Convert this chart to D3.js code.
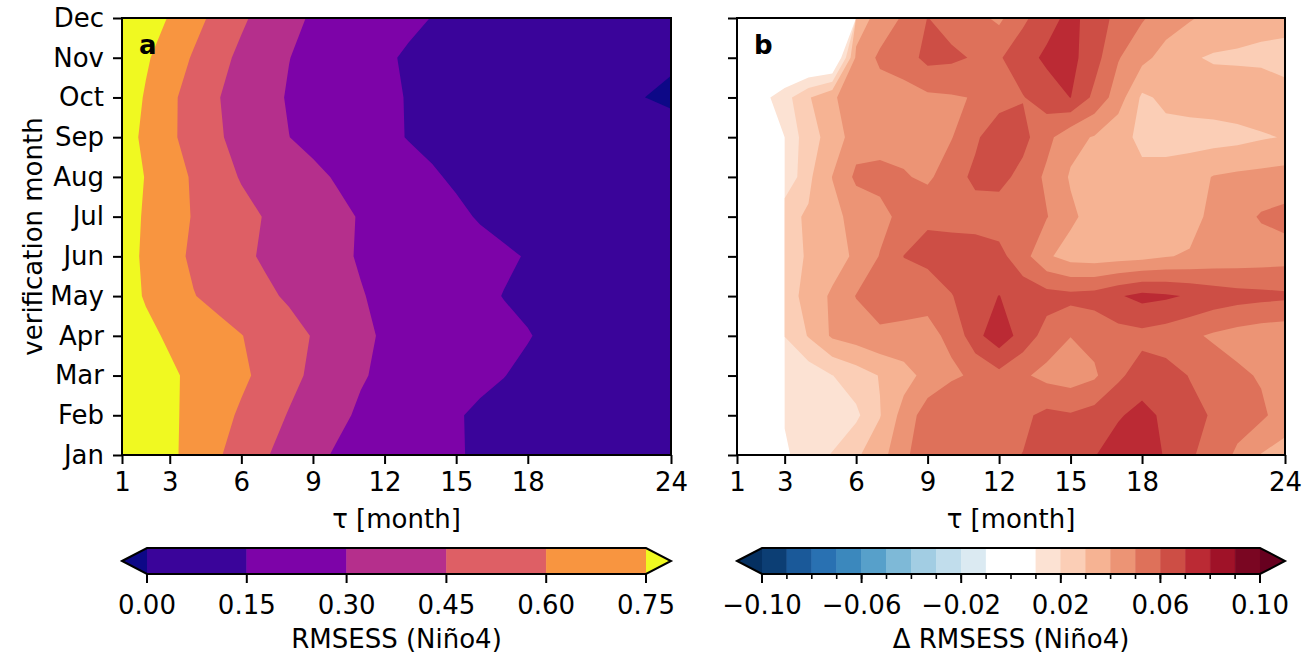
<!DOCTYPE html>
<html>
<head>
<meta charset="utf-8">
<script src="https://cdn.jsdelivr.net/npm/d3@7"></script>
<style>
  body { margin: 0; background: #fff; }
  text { font-family: "DejaVu Sans", sans-serif; fill: #000; }
</style>
</head>
<body>
<svg id="fig" width="1313" height="657"></svg>
<script>
const months = ["Jan", "Feb", "Mar", "Apr", "May", "Jun", "Jul", "Aug", "Sep", "Oct", "Nov", "Dec"];
const tauTicks = [1, 3, 6, 9, 12, 15, 18, 24];

const levelsA = [0.00, 0.15, 0.30, 0.45, 0.60, 0.75];
const levelsB = [-0.10, -0.09, -0.08, -0.07, -0.06, -0.05, -0.04, -0.03, -0.02, -0.01, 0.00,
                 0.01, 0.02, 0.03, 0.04, 0.05, 0.06, 0.07, 0.08, 0.09, 0.10];
const cbTicksB = [-0.10, -0.06, -0.02, 0.02, 0.06, 0.10];

// RMSESS (Niño4), rows = verification month Jan..Dec, columns = tau 1..24
const rmsess = [
  [0.88, 0.83, 0.78, 0.698, 0.616, 0.539, 0.462, 0.396, 0.331, 0.287, 0.261, 0.236, 0.210, 0.184, 0.159, 0.135, 0.125, 0.115, 0.105, 0.095, 0.085, 0.075, 0.068, 0.060],
  [0.87, 0.82, 0.776, 0.711, 0.647, 0.581, 0.510, 0.441, 0.384, 0.326, 0.283, 0.253, 0.222, 0.191, 0.160, 0.130, 0.120, 0.110, 0.100, 0.090, 0.080, 0.070, 0.065, 0.060],
  [0.86, 0.81, 0.771, 0.722, 0.673, 0.625, 0.564, 0.490, 0.424, 0.367, 0.310, 0.279, 0.254, 0.228, 0.203, 0.177, 0.152, 0.130, 0.115, 0.100, 0.090, 0.080, 0.070, 0.060],
  [0.83, 0.78, 0.732, 0.690, 0.647, 0.604, 0.551, 0.497, 0.443, 0.383, 0.323, 0.287, 0.265, 0.243, 0.221, 0.199, 0.177, 0.155, 0.130, 0.115, 0.100, 0.090, 0.080, 0.070],
  [0.805, 0.739, 0.672, 0.605, 0.561, 0.518, 0.475, 0.432, 0.390, 0.348, 0.306, 0.278, 0.252, 0.226, 0.199, 0.173, 0.147, 0.130, 0.120, 0.110, 0.100, 0.090, 0.080, 0.070],
  [0.809, 0.727, 0.645, 0.577, 0.527, 0.477, 0.433, 0.395, 0.358, 0.321, 0.291, 0.270, 0.249, 0.228, 0.207, 0.186, 0.165, 0.144, 0.125, 0.110, 0.100, 0.090, 0.080, 0.070],
  [0.81, 0.735, 0.660, 0.591, 0.541, 0.491, 0.443, 0.405, 0.366, 0.328, 0.292, 0.262, 0.231, 0.201, 0.171, 0.141, 0.120, 0.105, 0.095, 0.085, 0.075, 0.068, 0.060, 0.055],
  [0.825, 0.744, 0.663, 0.583, 0.506, 0.440, 0.402, 0.364, 0.326, 0.290, 0.258, 0.226, 0.194, 0.162, 0.135, 0.120, 0.105, 0.095, 0.085, 0.075, 0.065, 0.055, 0.050, 0.045],
  [0.814, 0.720, 0.626, 0.544, 0.466, 0.407, 0.354, 0.301, 0.269, 0.238, 0.207, 0.176, 0.145, 0.125, 0.110, 0.100, 0.090, 0.080, 0.070, 0.060, 0.055, 0.050, 0.045, 0.030],
  [0.842, 0.736, 0.630, 0.540, 0.457, 0.396, 0.338, 0.290, 0.261, 0.232, 0.203, 0.173, 0.144, 0.120, 0.100, 0.085, 0.070, 0.060, 0.050, 0.040, 0.025, 0.010, -0.001, -0.012],
  [0.859, 0.768, 0.677, 0.586, 0.495, 0.420, 0.361, 0.302, 0.267, 0.234, 0.200, 0.167, 0.135, 0.120, 0.105, 0.090, 0.080, 0.070, 0.060, 0.050, 0.040, 0.030, 0.020, 0.010],
  [0.90, 0.83, 0.739, 0.648, 0.559, 0.472, 0.400, 0.332, 0.286, 0.258, 0.230, 0.203, 0.175, 0.147, 0.130, 0.120, 0.110, 0.100, 0.090, 0.080, 0.070, 0.060, 0.050, 0.040]
];

// Δ RMSESS (Niño4), same layout; null = no value
const deltaRmsess = [
  [null, null, 0.008, 0.0165, 0.0205, 0.0285, 0.036, 0.048, 0.056, 0.057, 0.057, 0.058, 0.0602, 0.063, 0.066, 0.0695, 0.075, 0.076, 0.069, 0.061, 0.057, 0.048, 0.0395, 0.036],
  [null, null, 0.011, 0.013, 0.015, 0.018, 0.0295, 0.044, 0.055, 0.056, 0.055, 0.055, 0.058, 0.0625, 0.061, 0.064, 0.069, 0.073, 0.068, 0.063, 0.059, 0.055, 0.052, 0.045],
  [null, null, 0.012, 0.014, 0.0198, 0.025, 0.0305, 0.036, 0.0435, 0.049, 0.051, 0.057, 0.0515, 0.047, 0.045, 0.0485, 0.058, 0.065, 0.064, 0.0596, 0.056, 0.052, 0.049, 0.045],
  [null, null, 0.0202, 0.0307, 0.0415, 0.0445, 0.048, 0.0475, 0.0485, 0.0512, 0.067, 0.076, 0.066, 0.056, 0.0502, 0.053, 0.056, 0.057, 0.055, 0.052, 0.0485, 0.046, 0.044, 0.043],
  [null, null, 0.025, 0.0336, 0.0417, 0.0504, 0.055, 0.054, 0.0515, 0.0595, 0.066, 0.0702, 0.066, 0.064, 0.063, 0.064, 0.069, 0.073, 0.0715, 0.069, 0.066, 0.064, 0.063, 0.062],
  [null, null, 0.026, 0.031, 0.035, 0.042, 0.0505, 0.0602, 0.064, 0.066, 0.065, 0.063, 0.054, 0.0415, 0.036, 0.035, 0.036, 0.037, 0.0395, 0.041, 0.043, 0.044, 0.045, 0.046],
  [null, null, 0.0277, 0.031, 0.0375, 0.043, 0.047, 0.053, 0.058, 0.056, 0.056, 0.055, 0.054, 0.0505, 0.042, 0.036, 0.033, 0.032, 0.033, 0.036, 0.043, 0.046, 0.051, 0.053],
  [null, null, 0.011, 0.028, 0.0402, 0.052, 0.053, 0.051, 0.048, 0.056, 0.062, 0.063, 0.057, 0.048, 0.039, 0.036, 0.034, 0.032, 0.033, 0.036, 0.0405, 0.042, 0.043, 0.044],
  [null, null, 0.0105, 0.0263, 0.0337, 0.0456, 0.046, 0.046, 0.047, 0.0495, 0.0585, 0.066, 0.063, 0.053, 0.043, 0.0393, 0.033, 0.028, 0.027, 0.026, 0.026, 0.027, 0.029, 0.0305],
  [null, 0.006, 0.016, 0.029, 0.039, 0.044, 0.045, 0.046, 0.048, 0.049, 0.0505, 0.056, 0.0595, 0.065, 0.0702, 0.0575, 0.045, 0.0283, 0.032, 0.034, 0.035, 0.036, 0.036, 0.032],
  [null, null, -0.009, -0.009, -0.009, 0.042, 0.052, 0.055, 0.063, 0.062, 0.059, 0.059, 0.066, 0.072, 0.073, 0.064, 0.0507, 0.043, 0.036, 0.031, 0.029, 0.0285, 0.028, 0.028],
  [null, null, null, null, null, 0.035, 0.0435, 0.0515, 0.0602, 0.056, 0.053, 0.048, 0.058, 0.066, 0.073, 0.0655, 0.057, 0.051, 0.045, 0.041, 0.037, 0.035, 0.033, 0.032]
];

const MASK = -9;          // stand-in for missing values, below every drawn band
const UNDER = -1;         // lower edge of the "under" band

const svg = d3.select("#fig");
const yTop = 18, yBot = 455;
const cbTop = 548, cbBot = 574;
const fs = 26;

// colours: plasma for panel a (normed to 0..0.9), RdBu_r for panel b
const normA = d3.scaleLinear([0, 0.9], [0, 1]);
const colorsA = [d3.interpolatePlasma(0)]
  .concat(d3.pairs(levelsA).map(([a, b]) => d3.interpolatePlasma(normA((a + b) / 2))))
  .concat([d3.interpolatePlasma(1)]);

const rdbuR = d3.piecewise(d3.interpolateRgb, ["#053061", "#2166ac", "#4393c3", "#92c5de", "#d1e5f0",
  "#f7f7f7", "#fddbc7", "#f4a582", "#d6604d", "#b2182b", "#67001f"]);
const normB = d3.scaleLinear([-0.1, 0.1], [0, 1]);
const colorsB = [rdbuR(0)]
  .concat(d3.pairs(levelsB).map(([a, b]) => {
    const m = (a + b) / 2;
    return Math.abs(m) < 0.01 ? "#ffffff" : rdbuR(normB(m));
  }))
  .concat([rdbuR(1)]);

const panels = [
  { key: "a", x0: 122, x1: 671, grid: rmsess, levels: levelsA, colors: colorsA,
    cbTicks: levelsA, cbMinor: [], cbLabel: "RMSESS (Niño4)", yLabels: true },
  { key: "b", x0: 737, x1: 1285, grid: deltaRmsess, levels: levelsB, colors: colorsB,
    cbTicks: cbTicksB, cbMinor: levelsB, cbLabel: "Δ RMSESS (Niño4)", yLabels: false }
];

const fmt = d3.format(".2f");

panels.forEach(p => {
  const x = d3.scaleLinear().domain([1, 24]).range([p.x0, p.x1]);
  const y = d3.scaleLinear().domain([0, 11]).range([yBot, yTop]);

  // grid padded by one cell on every side (edge values repeated)
  const ny = p.grid.length, nx = p.grid[0].length;
  const values = [];
  for (let j = -1; j <= ny; j++) {
    const row = p.grid[Math.max(0, Math.min(ny - 1, j))];
    for (let i = -1; i <= nx; i++) {
      const v = row[Math.max(0, Math.min(nx - 1, i))];
      values.push(v == null ? MASK : v);
    }
  }
  const thresholds = [UNDER].concat(p.levels);
  const bands = d3.contours().size([nx + 2, ny + 2]).thresholds(thresholds)(values);

  // bands lying wholly under the data minimum are hidden anyway; keep only the top one
  const dataMin = d3.min(p.grid.flat().filter(v => v != null));
  const firstBand = d3.max(thresholds.map((t, i) => t <= dataMin ? i : 0));

  // contour coords: padded index k sits at k + 0.5
  const proj = d3.geoTransform({
    point(px, py) { this.stream.point(x(px - 0.5), y(py - 1.5)); }
  });
  const path = d3.geoPath(proj);

  svg.append("clipPath").attr("id", "clip-" + p.key)
    .append("rect")
      .attr("x", p.x0).attr("y", yTop)
      .attr("width", p.x1 - p.x0).attr("height", yBot - yTop);

  svg.append("g")
    .attr("clip-path", `url(#clip-${p.key})`)
    .selectAll("path")
    .data(bands.map((b, i) => ({ b, i })).filter(d => d.i >= firstBand))
    .join("path")
      .attr("d", d => path(d.b))
      .attr("fill", d => p.colors[d.i]);

  // axes
  const yAxis = d3.axisLeft(y).tickValues(d3.range(12)).tickSize(9).tickPadding(9)
    .tickFormat(p.yLabels ? (i => months[i]) : () => "");
  const gy = svg.append("g").attr("transform", `translate(${p.x0},0)`).call(yAxis);
  const xAxis = d3.axisBottom(x).tickValues(tauTicks).tickSize(9).tickPadding(9).tickFormat(d3.format("d"));
  const gx = svg.append("g").attr("transform", `translate(0,${yBot})`).call(xAxis);
  [gx, gy].forEach(g => {
    g.select(".domain").remove();
    g.selectAll(".tick line").attr("stroke", "#000").attr("stroke-width", 2);
    g.selectAll(".tick text").attr("font-size", fs).attr("fill", "#000");
  });

  svg.append("rect")
    .attr("x", p.x0).attr("y", yTop)
    .attr("width", p.x1 - p.x0).attr("height", yBot - yTop)
    .attr("fill", "none").attr("stroke", "#000").attr("stroke-width", 2);

  svg.append("text")
    .attr("x", p.x0 + 17).attr("y", yTop + 36)
    .attr("font-size", fs).attr("font-weight", "bold")
    .text(p.key);

  svg.append("text")
    .attr("x", (p.x0 + p.x1) / 2).attr("y", 528)
    .attr("text-anchor", "middle").attr("font-size", fs)
    .text("τ [month]");

  // colorbar
  const ext = 25;
  const lv = p.levels;
  const cbx = d3.scaleLinear().domain([lv[0], lv[lv.length - 1]]).range([p.x0 + ext, p.x1 - ext]);
  const cmid = (cbTop + cbBot) / 2;
  const cb = svg.append("g");
  cb.selectAll("rect")
    .data(d3.pairs(lv))
    .join("rect")
      .attr("x", d => cbx(d[0]))
      .attr("y", cbTop)
      .attr("width", d => cbx(d[1]) - cbx(d[0]))
      .attr("height", cbBot - cbTop)
      .attr("fill", (d, i) => p.colors[i + 1])
      .attr("stroke", (d, i) => p.colors[i + 1])
      .attr("stroke-width", 0.5);
  cb.append("path")
    .attr("d", `M${cbx(lv[0])},${cbTop}L${p.x0},${cmid}L${cbx(lv[0])},${cbBot}Z`)
    .attr("fill", p.colors[0]);
  cb.append("path")
    .attr("d", `M${cbx(lv[lv.length - 1])},${cbTop}L${p.x1},${cmid}L${cbx(lv[lv.length - 1])},${cbBot}Z`)
    .attr("fill", p.colors[p.colors.length - 1]);
  cb.append("path")
    .attr("d", `M${p.x0},${cmid}L${cbx(lv[0])},${cbTop}L${cbx(lv[lv.length - 1])},${cbTop}L${p.x1},${cmid}` +
               `L${cbx(lv[lv.length - 1])},${cbBot}L${cbx(lv[0])},${cbBot}Z`)
    .attr("fill", "none").attr("stroke", "#000").attr("stroke-width", 2)
    .attr("stroke-linejoin", "miter");

  cb.selectAll("line.minor")
    .data(p.cbMinor)
    .join("line")
      .attr("class", "minor")
      .attr("x1", d => cbx(d)).attr("x2", d => cbx(d))
      .attr("y1", cbBot).attr("y2", cbBot + 5)
      .attr("stroke", "#000").attr("stroke-width", 1.6);
  cb.selectAll("line.major")
    .data(p.cbTicks)
    .join("line")
      .attr("class", "major")
      .attr("x1", d => cbx(d)).attr("x2", d => cbx(d))
      .attr("y1", cbBot).attr("y2", cbBot + 9)
      .attr("stroke", "#000").attr("stroke-width", 2);
  cb.selectAll("text.tl")
    .data(p.cbTicks)
    .join("text")
      .attr("class", "tl")
      .attr("x", d => cbx(d)).attr("y", 614)
      .attr("text-anchor", "middle").attr("font-size", fs)
      .text(d => fmt(d));
  cb.append("text")
    .attr("x", (p.x0 + p.x1) / 2).attr("y", 648)
    .attr("text-anchor", "middle").attr("font-size", fs)
    .text(p.cbLabel);
});

svg.append("text")
  .attr("transform", `translate(42,${(yTop + yBot) / 2}) rotate(-90)`)
  .attr("text-anchor", "middle").attr("font-size", fs)
  .text("verification month");
</script>
</body>
</html>
